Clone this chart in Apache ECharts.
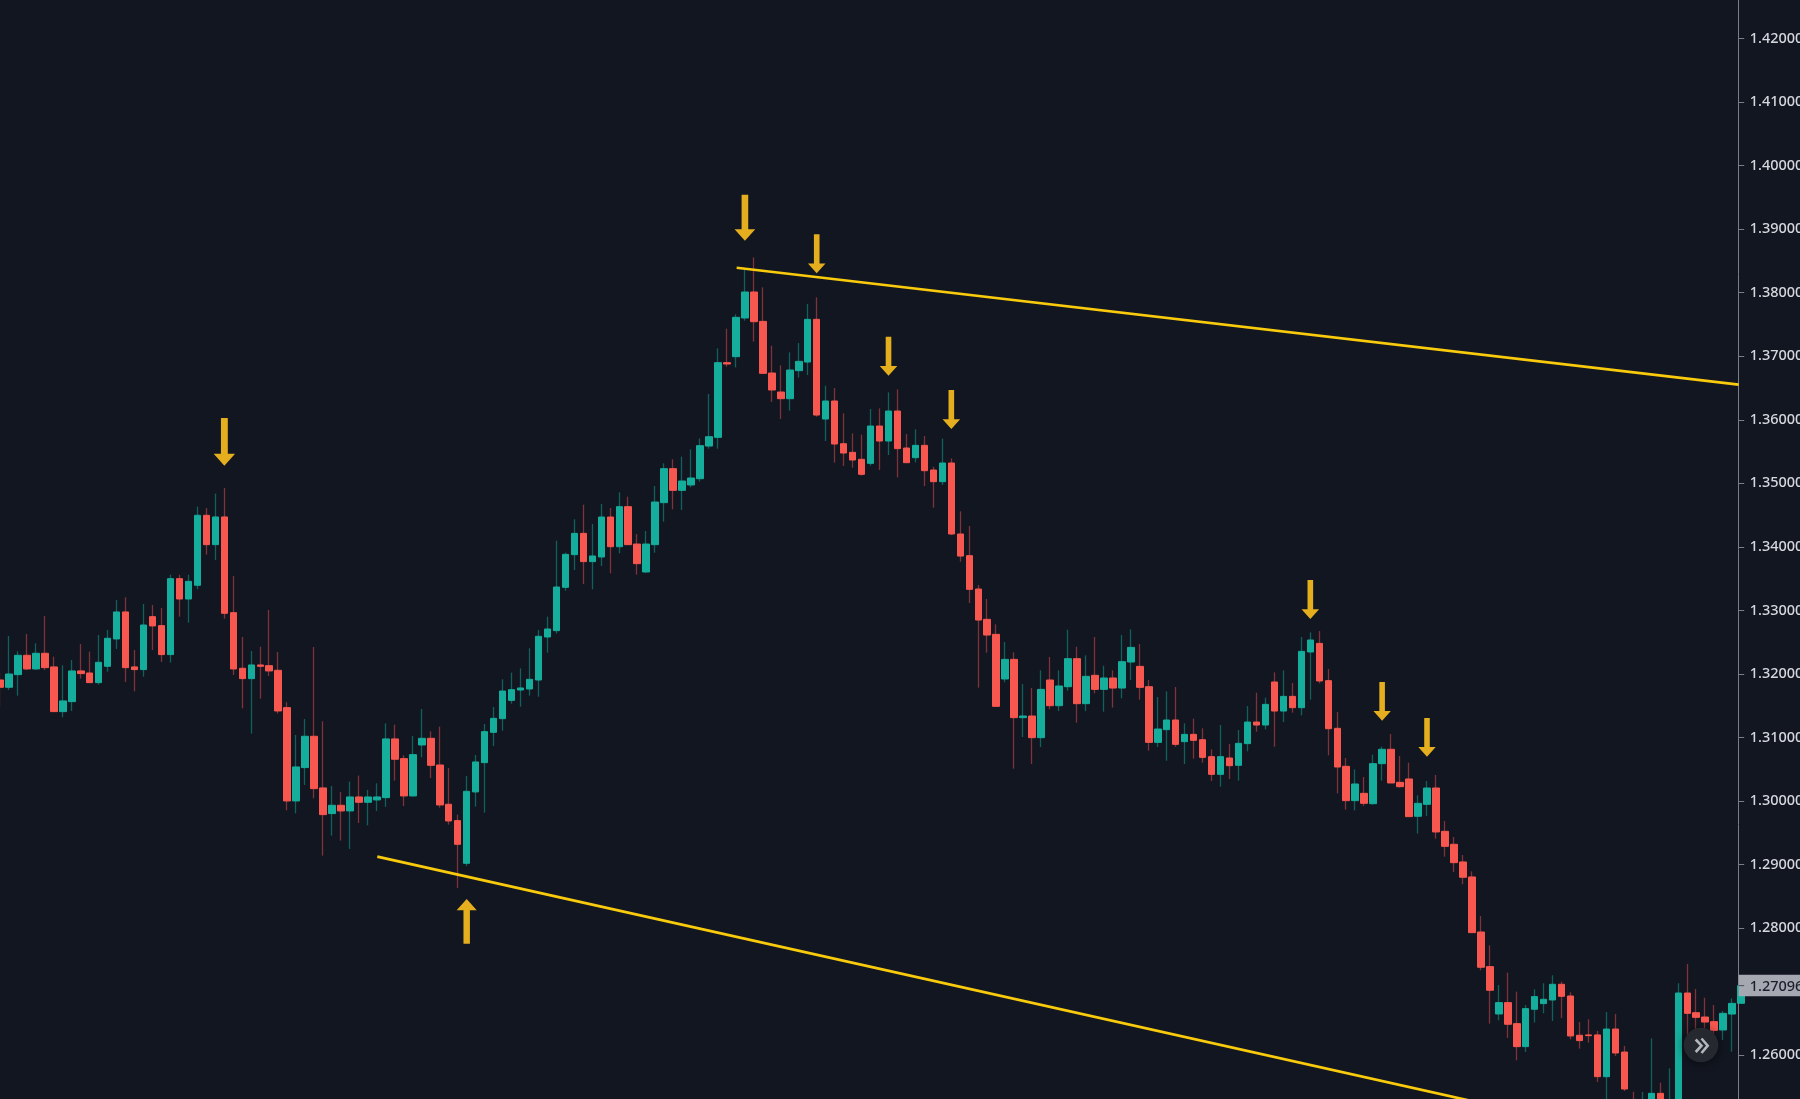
<!DOCTYPE html>
<html>
<head>
<meta charset="utf-8">
<style>html,body{margin:0;padding:0;background:#121620;overflow:hidden}#c{width:1800px;height:1099px}</style>
<script src="https://cdn.jsdelivr.net/npm/echarts@6/dist/echarts.min.js"></script>
</head>
<body>
<div id="c"></div>
<script>
const opens = [
1.31906,1.31791,1.31990,1.32294,1.32079,1.32326,1.32111,1.31408,1.31565,1.32048,
1.32016,1.31864,1.32121,1.32551,1.32976,1.32111,1.32069,1.32902,1.32761,1.32305,
1.33500,1.33180,1.33396,1.34497,1.34035,1.34471,1.32965,1.32090,1.31927,1.32142,
1.32131,1.32058,1.31471,1.30002,1.30527,1.31020,1.30207,1.29803,1.29934,1.29845,
1.30065,1.29981,1.30018,1.30054,1.30978,1.30668,1.30081,1.30883,1.30988,1.30568,
1.29950,1.29693,1.29021,1.30144,1.30605,1.31082,1.31297,1.31585,1.31748,1.31764,
1.31905,1.32582,1.32682,1.33364,1.33878,1.34213,1.33768,1.33841,1.34470,1.34003,
1.34633,1.34045,1.33605,1.34035,1.34696,1.35231,1.34890,1.34974,1.35073,1.35587,
1.35724,1.36899,1.36993,1.37602,1.38011,1.37549,1.36736,1.36437,1.36332,1.36773,
1.36909,1.37581,1.36012,1.36296,1.35624,1.35488,1.35378,1.35315,1.35902,1.35666,
1.36138,1.35556,1.35404,1.35598,1.35210,1.35026,1.35320,1.34203,1.33862,1.33337,
1.32860,1.32624,1.31921,1.32230,1.31313,1.31339,1.30998,1.31905,1.31501,1.31800,
1.32241,1.31533,1.31979,1.31758,1.31937,1.31779,1.32188,1.32120,1.31800,1.30924,
1.31124,1.31276,1.30935,1.31050,1.30966,1.30699,1.30421,1.30678,1.30563,1.30904,
1.31244,1.31197,1.31874,1.31417,1.31648,1.31470,1.32346,1.32482,1.31895,1.31145,
1.30547,1.30007,1.30122,1.29959,1.30589,1.30815,1.30295,1.30348,1.29761,1.29949,
1.30206,1.29524,1.29320,1.29042,1.28806,1.27940,1.27395,1.26650,1.26829,1.26498,
1.26136,1.26724,1.26813,1.26870,1.27117,1.26933,1.26315,1.26320,1.26320,1.25663,
1.26413,1.26051,1.25250,1.25050,1.25250,1.25401,1.24900,1.25150,1.26980,1.26670,
1.26602,1.26529,1.26398,1.26649,1.26818
];
const closes = [
1.31791,1.32000,1.32294,1.32079,1.32326,1.32100,1.31408,1.31576,1.32048,1.32006,
1.31864,1.32184,1.32562,1.32976,1.32100,1.32069,1.32771,1.32756,1.32305,1.33500,
1.33180,1.33458,1.34497,1.34035,1.34471,1.32955,1.32079,1.31927,1.32142,1.32121,
1.32048,1.31418,1.30002,1.30537,1.31020,1.30196,1.29787,1.29934,1.29845,1.30065,
1.29981,1.30065,1.30065,1.30978,1.30658,1.30081,1.30731,1.30988,1.30563,1.29939,
1.29687,1.29320,1.30154,1.30616,1.31093,1.31302,1.31732,1.31753,1.31780,1.31916,
1.32593,1.32708,1.33369,1.33883,1.34213,1.33768,1.33857,1.34470,1.34003,1.34633,
1.34035,1.33736,1.34045,1.34706,1.35231,1.34890,1.35037,1.35084,1.35593,1.35734,
1.36899,1.36878,1.37612,1.38011,1.37544,1.36731,1.36469,1.36332,1.36783,1.36920,
1.37581,1.36075,1.36296,1.35619,1.35477,1.35367,1.35142,1.35902,1.35666,1.36138,
1.35546,1.35325,1.35598,1.35199,1.35026,1.35320,1.34203,1.33856,1.33332,1.32849,
1.32613,1.31491,1.32230,1.31313,1.31339,1.30998,1.31758,1.31501,1.31811,1.32241,
1.31533,1.31963,1.31758,1.31937,1.31779,1.32194,1.32419,1.31790,1.30924,1.31134,
1.31276,1.30893,1.31050,1.30956,1.30688,1.30421,1.30699,1.30557,1.30909,1.31244,
1.31197,1.31522,1.31417,1.31648,1.31470,1.32356,1.32535,1.31890,1.31139,1.30536,
1.30007,1.30269,1.29965,1.30589,1.30815,1.30285,1.30227,1.29755,1.29965,1.30206,
1.29514,1.29288,1.29031,1.28801,1.27930,1.27385,1.27023,1.26829,1.26488,1.26136,
1.26734,1.26923,1.26881,1.27117,1.26928,1.26304,1.26231,1.26309,1.25664,1.26413,
1.26036,1.25469,1.25050,1.25250,1.25401,1.25100,1.25150,1.26980,1.26660,1.26597,
1.26523,1.26392,1.26660,1.26817,1.27096
];
const lows = [
1.31486,1.31749,1.31659,1.32063,1.32063,1.32063,1.31408,1.31319,1.31418,1.31927,
1.31864,1.31833,1.32037,1.32394,1.31874,1.31728,1.31958,1.32378,1.32189,1.32179,
1.32902,1.32808,1.33333,1.33878,1.33794,1.32871,1.31985,1.31460,1.31062,1.31612,
1.31969,1.31376,1.29855,1.29808,1.30254,1.30044,1.29142,1.29457,1.29378,1.29247,
1.29656,1.29619,1.29845,1.29908,1.30322,1.29923,1.30070,1.30689,1.30364,1.29897,
1.29630,1.28633,1.28979,1.29913,1.29818,1.30867,1.31108,1.31533,1.31486,1.31659,
1.31643,1.32335,1.32634,1.33311,1.33636,1.33416,1.33332,1.33699,1.33584,1.33899,
1.34035,1.33563,1.33594,1.33909,1.34397,1.34591,1.34580,1.34937,1.35026,1.35546,
1.35546,1.36836,1.36825,1.37560,1.37229,1.36731,1.36280,1.36012,1.36143,1.36663,
1.36705,1.36049,1.35666,1.35325,1.35273,1.35247,1.35121,1.35278,1.35210,1.35446,
1.35094,1.35325,1.35330,1.34958,1.34617,1.34974,1.34187,1.33767,1.33117,1.31785,
1.32335,1.31491,1.31869,1.30510,1.31008,1.30584,1.30851,1.31444,1.31417,1.31737,
1.31234,1.31417,1.31695,1.31407,1.31470,1.31617,1.31905,1.31596,1.30793,1.30851,
1.30636,1.30856,1.30584,1.30667,1.30604,1.30316,1.30227,1.30347,1.30321,1.30783,
1.31092,1.31129,1.30856,1.31244,1.31391,1.31349,1.31596,1.31853,1.30720,1.30122,
1.29865,1.29854,1.29923,1.29944,1.30322,1.30285,1.30212,1.29755,1.29488,1.29766,
1.29409,1.29126,1.28885,1.28691,1.27930,1.27337,1.26498,1.26551,1.26273,1.25921,
1.26052,1.26514,1.26661,1.26540,1.26587,1.26252,1.26105,1.26199,1.25580,1.25150,
1.25988,1.25438,1.24950,1.24950,1.25100,1.25000,1.24800,1.25000,1.26240,1.26293,
1.26293,1.26214,1.26240,1.26057,1.26600
];
const highs = [
1.32021,1.32598,1.32357,1.32630,1.32483,1.32913,1.32273,1.32137,1.32221,1.32472,
1.32352,1.32614,1.32693,1.33165,1.33207,1.32378,1.33102,1.33086,1.33039,1.33563,
1.33563,1.33563,1.34633,1.34612,1.34838,1.34927,1.33542,1.32583,1.32362,1.32430,
1.33007,1.32347,1.31555,1.31041,1.31292,1.32425,1.31256,1.30238,1.30144,1.30306,
1.30401,1.30175,1.30280,1.31224,1.31203,1.30721,1.31025,1.31450,1.31098,1.31172,
1.30521,1.29787,1.30395,1.30726,1.31214,1.31481,1.31916,1.32021,1.32089,1.32404,
1.32692,1.32902,1.34098,1.33909,1.34434,1.34664,1.34360,1.34675,1.34612,1.34858,
1.34790,1.34203,1.34250,1.34958,1.35315,1.35378,1.35420,1.35535,1.35708,1.36406,
1.37124,1.37434,1.37659,1.38357,1.38556,1.38084,1.37166,1.36857,1.37061,1.37208,
1.37822,1.37927,1.36537,1.36500,1.36101,1.35787,1.35766,1.36170,1.36180,1.36432,
1.36479,1.35776,1.35850,1.35745,1.35262,1.35703,1.35393,1.34559,1.34328,1.33400,
1.33180,1.32781,1.32503,1.32341,1.31842,1.31779,1.32057,1.32267,1.32057,1.32697,
1.32430,1.32293,1.32582,1.32131,1.32057,1.32613,1.32702,1.32472,1.31905,1.31638,
1.31727,1.31795,1.31223,1.31297,1.31145,1.30814,1.31197,1.30898,1.31118,1.31496,
1.31706,1.31627,1.32026,1.32057,1.31858,1.32582,1.32655,1.32676,1.32078,1.31402,
1.30678,1.30500,1.30379,1.30730,1.30857,1.31056,1.30710,1.30605,1.30091,1.30316,
1.30411,1.29687,1.29435,1.29152,1.28895,1.28192,1.27731,1.27107,1.27301,1.27002,
1.26792,1.27038,1.27133,1.27259,1.27159,1.26991,1.26524,1.26566,1.26383,1.26681,
1.26649,1.26146,1.25427,1.25422,1.26266,1.25569,1.25794,1.27133,1.27437,1.27044,
1.26906,1.26791,1.26697,1.26896,1.27200
];
const tickValues = [1.42,1.41,1.40,1.39,1.38,1.37,1.36,1.35,1.34,1.33,1.32,1.31,1.30,1.29,1.28,1.27,1.26];
const lastPrice = 1.27096;
const upperTrendX = [82.08, 193.73];
const upperTrendY = [1.38393, 1.36554];
const lowerTrendX = [42.04, 170];
const lowerTrendY = [1.29125, 1.25090];
const arrowIndex = [25, 83, 91, 99, 106, 146, 154, 159, 52];
const arrowTail  = [1.36028,1.39542,1.38919,1.37308,1.36469,1.33479,1.31874,1.31307,1.27756];
const arrowTip   = [1.35278,1.38818,1.38305,1.36694,1.35855,1.32865,1.31265,1.30699,1.28459];

const XMAX = 193.73, YMAX = 1.42606, YMIN = 1.25312;
const FONT = '"Noto Sans", sans-serif';
const idx = opens.map((_, i) => i);
const wickData = idx.map(i => [i, opens[i], closes[i], lows[i], highs[i]]);
const bodyData = idx.map(i => [i, opens[i], closes[i], Math.min(opens[i], closes[i]), Math.max(opens[i], closes[i])]);
const arrowData = arrowIndex.map((x, i) => [x, arrowTail[i], arrowTip[i]]);

function renderArrow(params, api) {
  const tail = api.coord([api.value(0), api.value(1)]);
  const tip = api.coord([api.value(0), api.value(2)]);
  const len = Math.abs(tip[1] - tail[1]);
  const dir = tip[1] > tail[1] ? 1 : -1;
  const x = tail[0], hw = len * 0.225, sw = len * 0.072, base = tip[1] - dir * len * 0.25;
  return {
    type: 'polygon',
    shape: { points: [[x - sw, tail[1]], [x + sw, tail[1]], [x + sw, base], [x + hw, base], [x, tip[1]], [x - hw, base], [x - sw, base]] },
    style: { fill: '#e5ae1f' }
  };
}
function renderTag(params, api) {
  const p = api.coord([XMAX, api.value(0)]);
  return {
    type: 'group',
    children: [
      { type: 'rect', shape: { x: p[0], y: p[1] - 11, width: api.getWidth() - p[0], height: 21.5 }, style: { fill: '#a6a8b1' } },
      { type: 'rect', shape: { x: p[0], y: p[1] - 0.5, width: 5.5, height: 1 }, style: { fill: '#4a4d57' } },
      { type: 'text', style: { x: p[0] + 11, y: p[1] + 1, text: lastPrice.toFixed(5), fill: '#1b1f2b', font: '500 14.5px ' + FONT, textAlign: 'left', textVerticalAlign: 'middle' } }
    ]
  };
}

const chart = echarts.init(document.getElementById('c'), null, { renderer: 'canvas', width: 1800, height: 1099 });
chart.setOption({
  animation: false,
  backgroundColor: '#121620',
  grid: { left: 0, right: 61.3, top: 0, bottom: 0, containLabel: false, outerBoundsMode: 'none' },
  xAxis: { type: 'value', min: 0, max: XMAX, show: false, splitLine: { show: false } },
  yAxis: {
    type: 'value', position: 'right', min: YMIN, max: YMAX, scale: true,
    splitLine: { show: false },
    axisLine: { show: true, onZero: false, lineStyle: { color: '#7b7e87', width: 1 } },
    axisTick: { show: true, length: 5.5, customValues: tickValues, lineStyle: { color: '#7b7e87', width: 1 } },
    axisLabel: { show: true, margin: 11, customValues: tickValues, color: '#d6d8de', fontFamily: FONT, fontSize: 14.5, fontWeight: 500, align: 'left', padding: [2, 0, 0, 0], formatter: v => v.toFixed(5) }
  },
  series: [
    { type: 'candlestick', name: 'wicks', barWidth: 0.5, data: wickData, z: 2,
      itemStyle: { color: '#0f625c', color0: '#7e333a', borderColor: '#0f625c', borderColor0: '#7e333a', borderWidth: 1.3 } },
    { type: 'candlestick', name: 'bodies', barWidth: 7, data: bodyData, z: 3,
      itemStyle: { color: '#15ae9c', color0: '#f8574f', borderColor: '#15ae9c', borderColor0: '#f8574f', borderWidth: 1 } },
    { type: 'line', name: 'upper', data: upperTrendX.map((x, i) => [x, upperTrendY[i]]), showSymbol: false, z: 4,
      lineStyle: { color: '#f9cb0c', width: 2.7 } },
    { type: 'line', name: 'lower', data: lowerTrendX.map((x, i) => [x, lowerTrendY[i]]), showSymbol: false, z: 4,
      lineStyle: { color: '#f9cb0c', width: 2.7 } },
    { type: 'custom', name: 'arrows', data: arrowData, encode: { x: 0, y: [1, 2] }, renderItem: renderArrow, z: 5, silent: true },
    { type: 'custom', name: 'lastPrice', data: [[lastPrice]], encode: { y: 0 }, renderItem: renderTag, z: 6, silent: true, clip: false }
  ],
  graphic: [{
    type: 'group', silent: true, z: 100, children: [
      { type: 'circle', z: 100, shape: { cx: 1701, cy: 1045, r: 17.3 }, style: { fill: '#25282f', shadowBlur: 8, shadowColor: 'rgba(0,0,0,0.55)', shadowOffsetY: 1 } },
      { type: 'polyline', z: 101, shape: { points: [[1695.7, 1039.5], [1701.5, 1045.7], [1695.7, 1052]] }, style: { stroke: '#b4b6bd', lineWidth: 2.6, fill: null } },
      { type: 'polyline', z: 101, shape: { points: [[1701.5, 1038.5], [1707.7, 1045.7], [1701.5, 1053]] }, style: { stroke: '#b4b6bd', lineWidth: 2.6, fill: null } }
    ]
  }]
});
</script>
</body>
</html>
